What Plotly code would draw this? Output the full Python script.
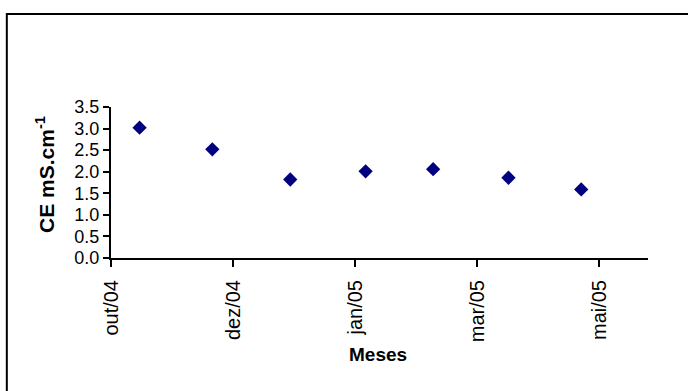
import plotly.graph_objects as go

# Data
sample_dates = ["2004-11-08", "2004-12-06", "2005-01-05", "2005-02-03",
                "2005-03-01", "2005-03-30", "2005-04-27"]
ce_values = [3.02, 2.52, 1.82, 2.01, 2.06, 1.86, 1.59]

tick_dates = ["2004-10-28", "2004-12-14", "2005-01-30", "2005-03-18", "2005-05-04"]
tick_labels = ["out/04", "dez/04", "jan/05", "mar/05", "mai/05"]
x_range = ["2004-10-28", "2005-05-22 17:00"]

FONT = "Liberation Sans, Arial, sans-serif"

fig = go.Figure()
fig.add_trace(go.Scatter(
    x=sample_dates, y=ce_values, mode="markers",
    marker=dict(symbol="diamond", size=11, color="#000080"),
    showlegend=False, hoverinfo="x+y"))

fig.update_layout(
    width=688, height=391,
    margin=dict(l=111, r=40, t=107, b=133),
    paper_bgcolor="white", plot_bgcolor="white",
    font=dict(family=FONT, color="black", size=18),
    xaxis=dict(type="date", range=x_range, tickvals=tick_dates, ticktext=tick_labels,
               tickangle=-90, ticks="outside", ticklen=7, tickwidth=1.5, tickcolor="black",
               showline=True, linecolor="black", linewidth=2, showgrid=False, zeroline=False,
               ticklabelstandoff=5,
               tickfont=dict(size=20, family=FONT)),
    yaxis=dict(range=[0, 3.5], dtick=0.5, tick0=0, tickformat=".1f",
               ticks="outside", ticklen=6, tickwidth=1.5, tickcolor="black",
               showline=True, linecolor="black", linewidth=2, showgrid=False, zeroline=False,
               tickfont=dict(size=18, family=FONT)),
    annotations=[
        dict(text="<b>CE mS.cm<sup>-1</sup></b>", xref="paper", yref="paper",
             x=-0.123, y=0.556, textangle=-90, showarrow=False,
             font=dict(size=21, family=FONT), xanchor="center", yanchor="middle"),
        dict(text="<b>Meses</b>", xref="paper", yref="paper",
             x=0.497, y=-0.642, showarrow=False,
             font=dict(size=19, family=FONT), xanchor="center", yanchor="middle"),
    ],
    shapes=[dict(type="rect", xref="paper", yref="paper",
                 x0=-0.194, x1=1.2, y0=-1.0, y1=1.616,
                 line=dict(color="black", width=2), fillcolor="rgba(0,0,0,0)", layer="below")],
)

fig.write_html("out.html")
